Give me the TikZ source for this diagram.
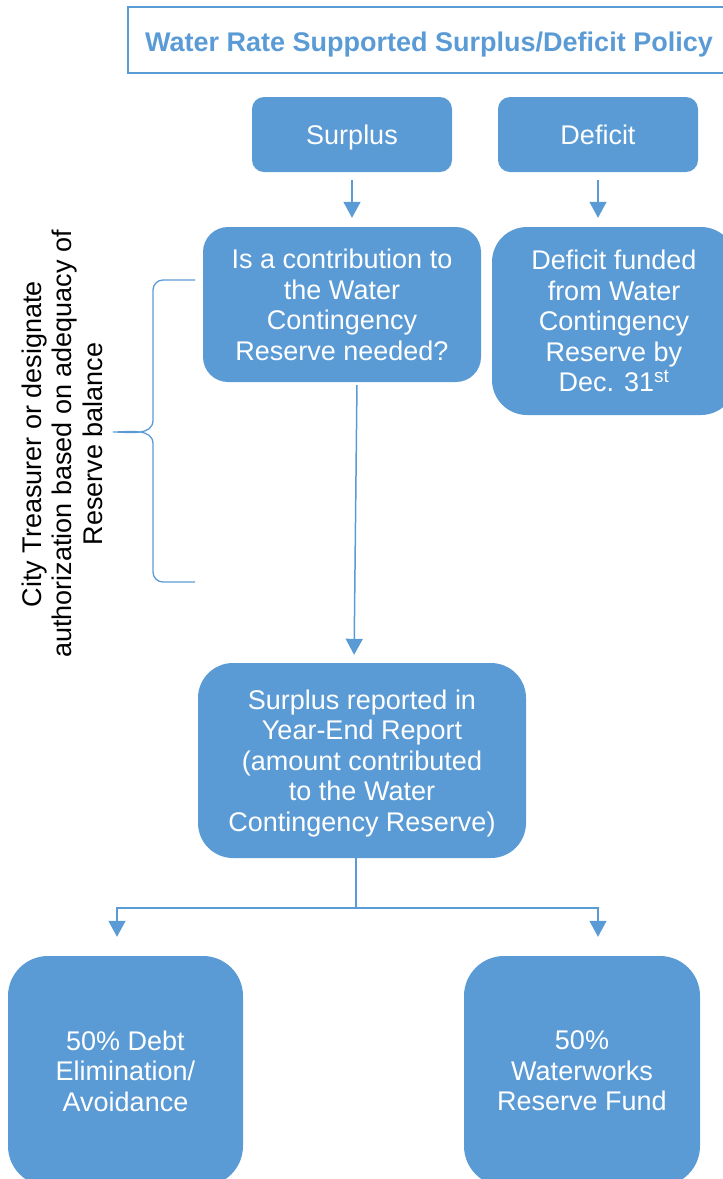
\documentclass[tikz,border=0pt]{standalone}
\usepackage{fontspec}
\setmainfont{Liberation Sans}
\usepackage{xcolor}
\usepackage{tikz}
\usetikzlibrary{arrows.meta, positioning, calc}
\definecolor{officeblue}{HTML}{5B9BD5}
\newcommand{\boxfont}{\fontsize{27}{30.5}\selectfont}
\tikzset{
  titlebox/.style={draw=officeblue, line width=1.5pt, text=officeblue, font=\boxfont\bfseries, minimum width=602pt, minimum height=66pt, inner sep=0pt, text height=23pt, text depth=0pt},
  block/.style={fill=officeblue, text=white, align=center, font=\boxfont, inner sep=0pt, text depth=-3pt},
  lowtext/.style={execute at begin node={\rule{0pt}{28pt}}},
  arrow/.style={-{Triangle[width=17pt, length=16pt]}, line width=1.5pt, officeblue},
  link/.style={line width=1.5pt, officeblue},
  bracket/.style={line width=1.3pt, officeblue},
  note/.style={align=center, font=\boxfont, rotate=90}
}
\begin{document}
\begin{tikzpicture}[x=1pt, y=-1pt]
    \useasboundingbox (0,0) rectangle (723,1179);
    \clip (0,0) rectangle (723,1179);
    % heading
    \node[titlebox] (title) at (429,40) {Water Rate Supported Surplus/Deficit Policy};
    % first row
    \node[block, rounded corners=12pt, minimum width=200pt, minimum height=75pt] (surplus) at (352,134.5) {Surplus};
    \node[block, rounded corners=12pt, minimum width=200pt, minimum height=75pt] (deficit) at (598,134.5) {Deficit};
    % second row
    \node[block, lowtext, rounded corners=25pt, minimum width=278pt, minimum height=155pt] (question) at (342,304.5) {Is a contribution to\\the Water\\Contingency\\Reserve needed?};
    \node[block, lowtext, rounded corners=35pt, minimum width=244pt, minimum height=188pt] (funded) at (614,321) {Deficit funded\\from Water\\Contingency\\Reserve by\\Dec. 31\textsuperscript{st}};
    % year end
    \node[block, rounded corners=35pt, minimum width=328pt, minimum height=195pt] (yearend) at (362,760.5) {Surplus reported in\\Year-End Report\\(amount contributed\\to the Water\\Contingency Reserve)};
    % split of surplus
    \node[block, rounded corners=40pt, minimum width=235pt, minimum height=230pt] (debt) at (125.5,1071) {50\% Debt\\Elimination/\\Avoidance};
    \node[block, rounded corners=40pt, minimum width=236pt, minimum height=230pt] (works) at (582,1071) {50\%\\Waterworks\\Reserve Fund};
    % side note with brace
    \node[note] (authority) at (62,444) {City Treasurer or designate\\authorization based on adequacy of\\Reserve balance};
    \coordinate (brtop) at (195,280);
    \coordinate (brtip) at (113,432);
    \coordinate (brbot) at (195,582);
    \draw[bracket] (brtop) -- (163,280) to[out=180, in=90] (153,290) -- (153,420)
        to[out=-90, in=0] (brtip) to[out=0, in=90] (153,444) -- (153,572)
        to[out=-90, in=180] (163,582) -- (brbot);
    % connectors
    \draw[arrow, shorten <=8pt, shorten >=9pt] (surplus.south) -- (surplus.south |- question.north);
    \draw[arrow, shorten <=8pt, shorten >=9pt] (deficit.south) -- (deficit.south |- funded.north);
    \draw[arrow, shorten <=3pt, shorten >=8pt] ([xshift=15pt]question.south) -- ([xshift=-8pt]yearend.north);
    \coordinate (split) at (356,908);
    \draw[link] (yearend.south -| split) -- (split);
    \draw[arrow, shorten >=19pt] (split) -| ([xshift=-8.5pt]debt.north);
    \draw[arrow, shorten >=19pt] (split) -| ([xshift=16pt]works.north);
\end{tikzpicture}
\end{document}
